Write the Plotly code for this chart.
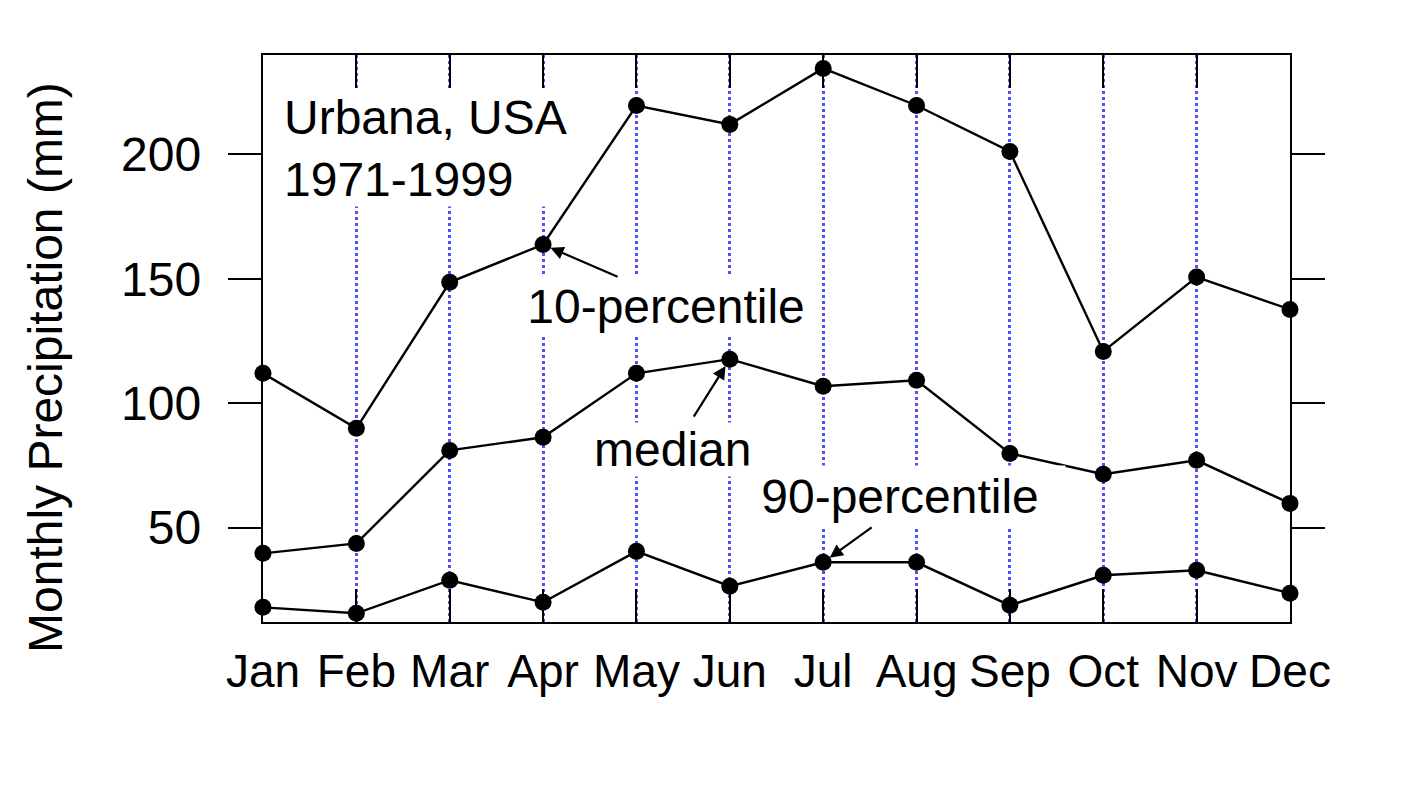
import plotly.graph_objects as go

months = ["Jan", "Feb", "Mar", "Apr", "May", "Jun", "Jul", "Aug", "Sep", "Oct", "Nov", "Dec"]
p10 = [112.0, 89.9, 148.6, 163.8, 219.7, 212.1, 234.6, 219.7, 201.2, 120.8, 150.7, 137.7]
median = [39.6, 43.6, 81.0, 86.3, 112.0, 117.7, 106.8, 109.2, 79.8, 71.4, 77.0, 59.7]
p90 = [17.9, 15.5, 28.8, 19.9, 40.4, 26.4, 36.0, 36.0, 18.7, 30.8, 32.8, 23.6]

FONT = "Liberation Sans, Arial, sans-serif"
x = list(range(len(months)))

fig = go.Figure()
for ys in (p10, median, p90):
    fig.add_trace(go.Scatter(
        x=x, y=ys, mode="lines+markers",
        line=dict(color="black", width=2.4),
        marker=dict(color="black", size=17),
        showlegend=False,
        cliponaxis=False,
    ))

# text labels with white boxes (they hide the dotted grid behind them)
labels = [
    dict(x=0.21, y=202.4, text="Urbana, USA<br>1971-1999", xanchor="left", align="left"),
    dict(x=4.32, y=138.7, text="10-percentile", width=310, height=59),
    dict(x=4.39, y=81.4, text="median"),
    dict(x=6.82, y=62.5, text="90-percentile", width=330, height=60),
]
for a in labels:
    fig.add_annotation(showarrow=False, bgcolor="white", borderpad=0,
                       yanchor="middle", font=dict(size=48, color="black", family=FONT), **a)

# arrows pointing at the curves
arrows = [(3, p10[3], 76, 33), (5, median[5], -37, 59), (6, p90[6], 50, -36)]
for ax_i, ay_v, dx, dy in arrows:
    fig.add_annotation(x=ax_i, y=ay_v, text="", showarrow=True, ax=dx, ay=dy,
                       arrowhead=2, arrowsize=1.2, arrowwidth=2.2, arrowcolor="black",
                       standoff=8)

# y axis title
fig.add_annotation(x=-0.2123, y=0.4497, xref="paper", yref="paper",
                   xanchor="center", yanchor="middle",
                   text="Monthly Precipitation (mm)", textangle=-90, showarrow=False,
                   font=dict(size=48, color="black", family=FONT))

fig.update_xaxes(
    range=[0, 11], tickvals=x, ticktext=months,
    ticks="inside", ticklen=33, tickwidth=2.4, tickcolor="black",
    showline=True, linecolor="black", linewidth=2.4, mirror="ticks",
    showgrid=True, gridcolor="#5050ff", gridwidth=2.5, griddash="dot",
    zeroline=False, ticklabelstandoff=8,
    tickfont=dict(size=46, color="black", family=FONT),
)
fig.update_yaxes(
    range=[12, 240], tickvals=[50, 100, 150, 200],
    ticks="outside", ticklen=33, tickwidth=2.4, tickcolor="black",
    showline=True, linecolor="black", linewidth=2.4, mirror="ticks",
    showgrid=False, zeroline=False, ticklabelstandoff=17,
    tickfont=dict(size=48, color="black", family=FONT),
)
fig.update_layout(
    width=1416, height=798,
    margin=dict(l=255, r=134, t=47, b=184),
    paper_bgcolor="white", plot_bgcolor="white",
    font=dict(family=FONT, color="black"),
)
fig.write_html("out.html")
